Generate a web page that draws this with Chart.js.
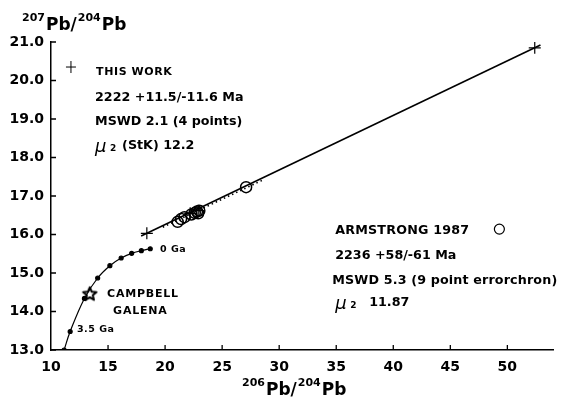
<!DOCTYPE html>
<html><head><meta charset="utf-8">
<script src="https://cdn.jsdelivr.net/npm/chart.js@4/dist/chart.umd.min.js"></script>
<style>html,body{margin:0;padding:0;background:#fff}#wrap{width:568px;height:397px}</style>
</head><body><div id="wrap"><canvas id="c"></canvas></div>
<script>
// ---- data ----
const xTicks = [10, 15, 20, 25, 30, 35, 40, 45, 50];
const yTicks = [13, 14, 15, 16, 17, 18, 19, 20, 21];
// This work (crosses) 206Pb/204Pb, 207Pb/204Pb
const thisWorkX = [18.4, 22.2, 22.9, 52.4];
const thisWorkY = [16.03, 16.55, 16.62, 20.85];
// Armstrong 1987 (open circles)
const armX = [21.1, 21.4, 21.7, 22.3, 22.6, 22.8, 23.0, 22.9, 27.1];
const armY = [16.33, 16.40, 16.45, 16.52, 16.56, 16.60, 16.62, 16.55, 17.23];
// Isochron line (this work), end points
const isoX = [17.9, 52.9];
const isoY = [15.96, 20.92];
// Armstrong errorchron (dotted), end points
const errX = [19.8, 28.6];
const errY = [16.19, 17.42];
// Stacey-Kramers growth curve points (3.7 Ga ... 0 Ga, 0.5 Ga steps)
const growthAge = [3.7, 3.5, 3.0, 2.5, 2.0, 1.5, 1.0, 0.5, 0.0];
const growthX = [11.15, 11.68, 12.93, 14.09, 15.16, 16.15, 17.07, 17.92, 18.70];
const growthY = [13.00, 13.48, 14.34, 14.87, 15.19, 15.39, 15.51, 15.58, 15.63];
// Campbell galena (star)
const galenaX = [13.4];
const galenaY = [14.47];

const zip = (xs, ys) => xs.map((x, i) => ({x, y: ys[i]}));
const FONT = '"DejaVu Sans", sans-serif';

// open five-pointed star marker
function makeStar(r) {
  const c = document.createElement('canvas');
  const s = 2 * Math.ceil(r + 2); c.width = s; c.height = s;
  const g = c.getContext('2d');
  g.translate(s / 2, s / 2 + 0.8);
  g.beginPath();
  for (let i = 0; i < 10; i++) {
    const a = -Math.PI / 2 + i * Math.PI / 5;
    const rr = i % 2 === 0 ? r : r * 0.45;
    const px = Math.cos(a) * rr, py = Math.sin(a) * rr;
    i === 0 ? g.moveTo(px, py) : g.lineTo(px, py);
  }
  g.closePath();
  g.fillStyle = '#fff'; g.fill();
  g.lineJoin = 'round';
  g.lineWidth = 2; g.strokeStyle = '#000'; g.stroke();
  return c;
}
const starImg = makeStar(7);

// annotations placed in data coordinates
const notes = [
  {t: 'THIS WORK', x: 13.95, y: 20.22, size: 11, ls: 0.6},
  {t: '2222 +11.5/-11.6 Ma', x: 13.86, y: 19.545, size: 12.7},
  {t: 'MSWD 2.1 (4 points)', x: 13.86, y: 18.92, size: 12.7},
  {t: '(StK) 12.2', x: 16.23, y: 18.30, size: 12.7},
  {t: 'ARMSTRONG 1987', x: 34.91, y: 16.09, size: 12.7, ls: 0.2},
  {t: '2236 +58/-61 Ma', x: 34.91, y: 15.44, size: 12.7},
  {t: 'MSWD 5.3 (9 point errorchron)', x: 34.65, y: 14.79, size: 12.7, ls: 0.15},
  {t: '11.87', x: 37.89, y: 14.22, size: 12.7},
  {t: 'CAMPBELL', x: 14.91, y: 14.455, size: 11, ls: 0.8},
  {t: 'GALENA', x: 15.44, y: 14.01, size: 11, ls: 0.8},
  {t: '0 Ga', x: 19.56, y: 15.62, size: 9.5, ls: 0.5},
  {t: '3.5 Ga', x: 12.28, y: 13.52, size: 9.5, ls: 0.5},
];
const mus = [{x: 13.86, y: 18.30}, {x: 34.91, y: 14.22}];
const legendCross = {x: 11.75, y: 20.35};
const legendCircle = {x: 49.3, y: 16.14};

const annotPlugin = {
  id: 'annot',
  afterDraw(chart) {
    const {ctx, scales: {x, y}, chartArea: ca} = chart;
    ctx.save();
    ctx.fillStyle = '#000'; ctx.strokeStyle = '#000';
    // inner tick marks
    ctx.lineWidth = 1.3;
    ctx.beginPath();
    xTicks.forEach(v => { if (v > x.min) { const px = x.getPixelForValue(v); ctx.moveTo(px, ca.bottom); ctx.lineTo(px, ca.bottom - 5); } });
    yTicks.forEach(v => { const py = y.getPixelForValue(v); ctx.moveTo(ca.left, py); ctx.lineTo(ca.left + 5, py); });
    ctx.stroke();
    // texts
    ctx.textBaseline = 'middle'; ctx.textAlign = 'left';
    notes.forEach(n => {
      ctx.font = 'bold ' + n.size + 'px ' + FONT;
      ctx.letterSpacing = (n.ls || 0) + 'px';
      ctx.fillText(n.t, x.getPixelForValue(n.x), y.getPixelForValue(n.y));
    });
    ctx.letterSpacing = '0px';
    // mu_2 symbols
    mus.forEach(m => {
      const px = x.getPixelForValue(m.x), py = y.getPixelForValue(m.y);
      ctx.font = 'italic 18px ' + FONT;
      ctx.fillText('\u03BC', px, py + 1);
      ctx.font = 'bold 9px ' + FONT;
      ctx.fillText('2', px + 15, py + 3);
    });
    // legend markers
    let px = x.getPixelForValue(legendCross.x), py = y.getPixelForValue(legendCross.y);
    ctx.lineWidth = 1;
    ctx.beginPath(); ctx.moveTo(px - 5, py); ctx.lineTo(px + 5, py); ctx.moveTo(px, py - 6); ctx.lineTo(px, py + 6); ctx.stroke();
    px = x.getPixelForValue(legendCircle.x); py = y.getPixelForValue(legendCircle.y);
    ctx.lineWidth = 1.2;
    ctx.beginPath(); ctx.arc(px, py, 5, 0, Math.PI * 2); ctx.stroke();
    // axis titles with superscripts
    const title = (sx, base, sup1, sup2) => {
      let cx = sx;
      ctx.textBaseline = 'alphabetic';
      ctx.font = 'bold 11px ' + FONT; ctx.fillText(sup1, cx, base - 9); cx += ctx.measureText(sup1).width + 1;
      ctx.font = 'bold 17px ' + FONT; ctx.fillText('Pb/', cx, base); cx += ctx.measureText('Pb/').width + 1;
      ctx.font = 'bold 11px ' + FONT; ctx.fillText(sup2, cx, base - 9); cx += ctx.measureText(sup2).width + 1;
      ctx.font = 'bold 17px ' + FONT; ctx.fillText('Pb', cx, base);
    };
    title(22, 30, '207', '204');
    title(242, 395, '206', '204');
    ctx.restore();
  }
};

new Chart(document.getElementById('c'), {
  type: 'scatter',
  data: {
    datasets: [
      {label: 'isochron', data: zip(isoX, isoY), showLine: true, borderColor: '#000', borderWidth: 1.6, pointRadius: 0},
      {label: 'errorchron', data: zip(errX, errY), showLine: true, borderColor: '#000', borderWidth: 1.6, borderDash: [1.5, 3], pointRadius: 0},
      {label: 'growth', data: zip(growthX, growthY), showLine: true, tension: 0.4, borderColor: '#000', borderWidth: 1.2, pointRadius: 2, pointBackgroundColor: '#000', pointBorderColor: '#000'},
      {label: 'Armstrong 1987', data: zip(armX, armY), pointStyle: 'circle', pointRadius: 5.5, borderWidth: 1.5, borderColor: '#000', backgroundColor: 'rgba(0,0,0,0)'},
      {label: 'This work', data: zip(thisWorkX, thisWorkY), pointStyle: 'cross', pointRadius: 6, borderWidth: 1.2, borderColor: '#000'},
      {label: 'Campbell galena', data: zip(galenaX, galenaY), pointStyle: starImg, pointRadius: 7},
    ]
  },
  options: {
    responsive: true, maintainAspectRatio: false, animation: false,
    layout: {padding: {left: 0, right: 15, top: 42, bottom: 0}},
    plugins: {legend: {display: false}, tooltip: {enabled: false}},
    scales: {
      x: {
        type: 'linear', min: 10, max: 54,
        afterFit(s) { s.height = 47; },
        afterBuildTicks(s) { s.ticks = xTicks.map(v => ({value: v})); },
        ticks: {color: '#000', font: {family: FONT, size: 14, weight: 'bold'}, padding: 9, maxRotation: 0},
        grid: {display: true, drawOnChartArea: false, drawTicks: false},
        border: {display: true, color: '#000', width: 1.5}
      },
      y: {
        type: 'linear', min: 13, max: 21,
        afterFit(s) { s.width = 51; },
        afterBuildTicks(s) { s.ticks = yTicks.map(v => ({value: v})); },
        ticks: {color: '#000', font: {family: FONT, size: 14, weight: 'bold'}, padding: 7, callback: v => v.toFixed(1)},
        grid: {display: true, drawOnChartArea: false, drawTicks: false},
        border: {display: true, color: '#000', width: 1.5}
      }
    }
  },
  plugins: [annotPlugin]
});
</script></body></html>
